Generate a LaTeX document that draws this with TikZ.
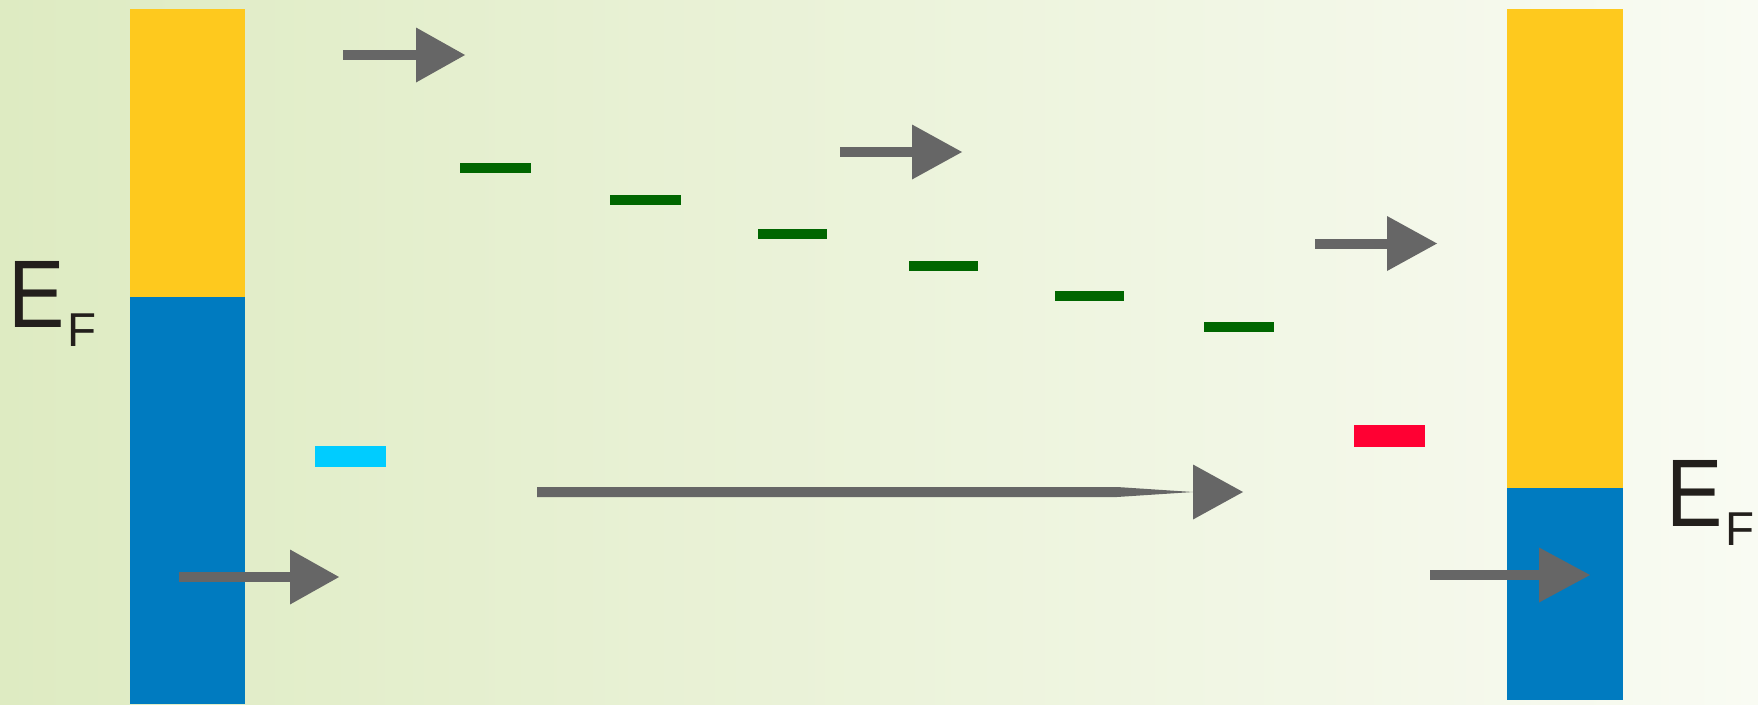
\documentclass[tikz,border=0pt]{standalone}
\usepackage{fontspec}
\setmainfont{Liberation Sans}
\usetikzlibrary{calc}

\definecolor{bandyellow}{HTML}{FEC91E}
\definecolor{bandblue}{HTML}{007BC0}
\definecolor{levelgreen}{HTML}{006600}
\definecolor{levelcyan}{HTML}{00CCFF}
\definecolor{levelred}{HTML}{FF0033}
\definecolor{arrowgrey}{HTML}{666666}
\definecolor{bgleft}{HTML}{DEEBC2}
\definecolor{bgright}{HTML}{F9FBF3}
\definecolor{labelink}{HTML}{231F1C}

% straight arrow: shaft from #1 to #2, triangular head from #2 to #3
\newcommand\flowarrow[3]{%
  \draw[shaft] (#1) -- ($(#2)+(1,0)$);
  \fill[arrowgrey] ($(#2)+(0,-27.5)$) -- (#3) -- ($(#2)+(0,27.5)$) -- cycle;
}

\begin{document}
\begin{tikzpicture}[x=1pt,y=-1pt,
  shaft/.style={draw=arrowgrey, line width=10pt},
  greenlevel/.style={fill=levelgreen},
  bigE/.style={anchor=base west, inner sep=0pt, text=labelink,
    font=\fontsize{96}{96}\selectfont},
  subF/.style={anchor=base west, inner sep=0pt, text=labelink,
    font=\fontsize{47.5}{47.5}\selectfont}]

% background
\shade[left color=bgleft, right color=bgright] (0,0) rectangle (1758,704);
\useasboundingbox (0,0) rectangle (1758,704);

% left electrode
\fill[bandyellow] (130,9) rectangle (245,297);
\fill[bandblue] (130,297) rectangle (245,704);

% right electrode
\fill[bandyellow] (1507,9) rectangle (1623,488);
\fill[bandblue] (1507,488) rectangle (1623,700);

% molecular levels
\fill[greenlevel] (460,163) rectangle (531,173);
\fill[greenlevel] (610,194.5) rectangle (681,204.5);
\fill[greenlevel] (758,228.5) rectangle (827,238.5);
\fill[greenlevel] (909,260.5) rectangle (978,270.5);
\fill[greenlevel] (1055,290.5) rectangle (1124,300.5);
\fill[greenlevel] (1204,322) rectangle (1274,332);
\fill[levelcyan] (315,446) rectangle (386,467);
\fill[levelred] (1354,425) rectangle (1425,447);

% short arrows
\coordinate (a1s) at (343,55);    \coordinate (a1b) at (416,55);    \coordinate (a1t) at (465,55);
\coordinate (a2s) at (840,152);   \coordinate (a2b) at (912,152);   \coordinate (a2t) at (962,152);
\coordinate (a3s) at (1315,243.5);\coordinate (a3b) at (1387,243.5);\coordinate (a3t) at (1437,243.5);
\coordinate (a4s) at (179,577);   \coordinate (a4b) at (290,577);   \coordinate (a4t) at (339,577);
\coordinate (a5s) at (1430,575);  \coordinate (a5b) at (1539,575);  \coordinate (a5t) at (1590,575);
\flowarrow{a1s}{a1b}{a1t}
\flowarrow{a2s}{a2b}{a2t}
\flowarrow{a3s}{a3b}{a3t}
\flowarrow{a4s}{a4b}{a4t}
\flowarrow{a5s}{a5b}{a5t}

% long tapered arrow
\coordinate (ls) at (537,492);
\coordinate (lt) at (1117,492);
\coordinate (lb) at (1193,492);
\coordinate (lh) at (1243,492);
\fill[arrowgrey] ($(ls)+(0,-5)$) -- ($(lt)+(0,-5)$) -- (lb) -- ($(lt)+(0,5)$) -- ($(ls)+(0,5)$) -- cycle;
\fill[arrowgrey] ($(lb)+(0,-27.5)$) -- (lh) -- ($(lb)+(0,27.5)$) -- cycle;

% Fermi level labels
\node[bigE] (efl) at (8.3,327) {\scalebox{0.88}[1]{E}};
\node[subF] (efls) at (67,346) {F};
\node[bigE] (efr) at (1666.3,526) {\scalebox{0.88}[1]{E}};
\node[subF] (efrs) at (1725,545) {F};
\end{tikzpicture}
\end{document}
